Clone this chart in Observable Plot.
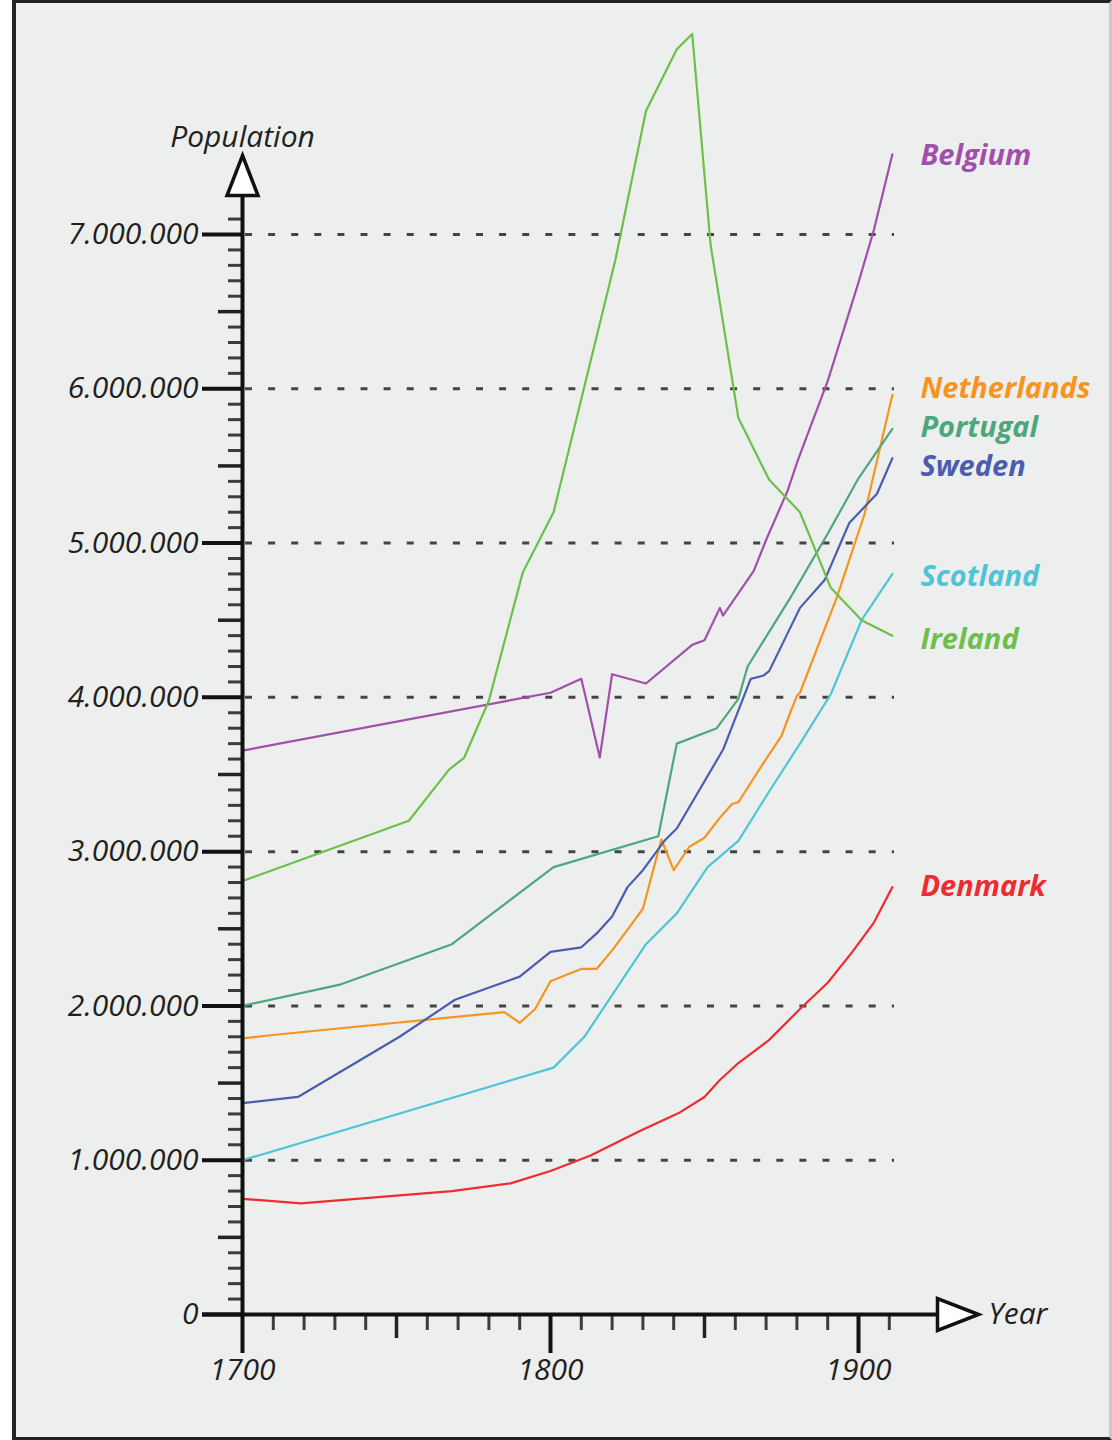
<!DOCTYPE html>
<html><head><meta charset="utf-8">
<script src="https://cdn.jsdelivr.net/npm/d3@7"></script>
<script src="https://cdn.jsdelivr.net/npm/@observablehq/plot@0.6"></script>
<style>
body{margin:0;background:#fff;}
#frame{position:absolute;left:12px;top:0;width:1100px;height:1440px;box-sizing:border-box;border:3px solid #222;border-left-width:4px;border-right-color:#c8c8c8;background:#edefee;}
#chart{position:absolute;left:0;top:0;}
</style></head><body>
<div id="frame"></div><div id="chart"></div>
<script>
// ---- data (population in millions) ----
const countries = ["Belgium","Netherlands","Portugal","Sweden","Scotland","Ireland","Denmark"];
const colors    = ["#a24fab","#f7941e","#4ea77c","#4b5cb1","#4fc4d6","#6cc04a","#ef2b2f"];

const belgiumYears = [1700,1800,1810,1816,1820,1831,1846,1850,1855,1856,1866,1870,1877,1880,1883,1890,1900,1905,1911];
const belgiumPop   = [3.655,4.03,4.12,3.61,4.15,4.09,4.34,4.37,4.58,4.53,4.82,5.02,5.34,5.52,5.68,6.05,6.69,7.03,7.52];

const netherlandsYears = [1700,1709,1785,1790,1795,1800,1805,1810,1815,1820,1826,1830,1836,1840,1845,1850,1855,1859,1861,1868,1875,1878,1880,1881,1893,1902,1907,1911];
const netherlandsPop   = [1.79,1.81,1.96,1.89,1.98,2.16,2.20,2.24,2.24,2.36,2.52,2.63,3.08,2.88,3.03,3.09,3.22,3.31,3.32,3.54,3.75,3.91,4.01,4.03,4.65,5.19,5.62,5.96];

const portugalYears = [1700,1732,1768,1801,1835,1841,1854,1861,1864,1878,1890,1900,1911];
const portugalPop   = [2.00,2.14,2.40,2.90,3.10,3.70,3.80,3.99,4.20,4.65,5.06,5.42,5.74];

const swedenYears = [1700,1718,1751,1769,1790,1800,1810,1815,1820,1825,1830,1837,1841,1856,1865,1869,1871,1881,1889,1897,1906,1911];
const swedenPop   = [1.37,1.41,1.80,2.04,2.19,2.35,2.38,2.47,2.58,2.77,2.88,3.07,3.15,3.66,4.12,4.14,4.17,4.58,4.76,5.13,5.32,5.55];

const scotlandYears = [1700,1801,1811,1831,1841,1851,1861,1871,1881,1891,1901,1911];
const scotlandPop   = [1.00,1.60,1.80,2.40,2.60,2.90,3.07,3.39,3.70,4.02,4.50,4.80];

const irelandYears = [1700,1754,1767,1772,1780,1791,1801,1821,1831,1841,1846,1852,1861,1871,1881,1891,1901,1911];
const irelandPop   = [2.81,3.20,3.53,3.61,3.98,4.81,5.20,6.83,7.80,8.20,8.30,6.93,5.81,5.41,5.20,4.71,4.50,4.40];

const denmarkYears = [1700,1719,1768,1787,1800,1813,1829,1842,1850,1855,1861,1871,1881,1890,1898,1905,1911];
const denmarkPop   = [0.75,0.72,0.80,0.85,0.93,1.03,1.19,1.31,1.41,1.52,1.63,1.78,1.98,2.15,2.35,2.54,2.77];

const yTicks  = [0,1,2,3,4,5,6,7];
const yLabels = ["0","1.000.000","2.000.000","3.000.000","4.000.000","5.000.000","6.000.000","7.000.000"];
const xTicks  = [1700,1800,1900];
const xLabels = ["1700","1800","1900"];

// ---- build table ----
const series = [
  [belgiumYears, belgiumPop], [netherlandsYears, netherlandsPop], [portugalYears, portugalPop],
  [swedenYears, swedenPop], [scotlandYears, scotlandPop], [irelandYears, irelandPop], [denmarkYears, denmarkPop]
];
const table = [];
series.forEach(([ys, vs], k) => ys.forEach((y, i) => table.push({country: countries[k], year: y, value: vs[i]})));
const lastPoints = series.map(([ys, vs], k) => ({country: countries[k], year: ys[ys.length-1], value: vs[vs.length-1], color: colors[k]}));
const labelDy = {Belgium:1, Netherlands:-6, Portugal:-1.5, Sweden:8.5, Scotland:3, Ireland:4, Denmark:0};

// ---- layout helpers (pixel lengths -> data units) ----
const X0 = 242, X1 = 858, Y0 = 1314, Y1 = 234;
const xu = p => p * 200 / (X1 - X0);
const yu = p => p * 7 / (Y0 - Y1);
const yTop = yu(Y0 - 195);          // top of y axis (arrow base)
const xEnd = 1700 + xu(937 - X0);   // end of x axis (arrow base)

const minorY = d3.range(1, 72).map(d => d / 10).filter(d => Math.round(d*10) % 5 !== 0);
const mediumY = d3.range(0.5, 7, 1);
const minorX = d3.range(1710, 1911, 10).filter(d => d % 50 !== 0);
const mediumX = [1750, 1850];

const arrowUp = {draw(ctx){ ctx.moveTo(0,-40); ctx.lineTo(15.5,0); ctx.lineTo(-15.5,0); ctx.closePath(); }};
const arrowRight = {draw(ctx){ ctx.moveTo(41,0); ctx.lineTo(0,-16); ctx.lineTo(0,16); ctx.closePath(); }};

const font = "'Open Sans', 'Noto Sans', sans-serif";
const ink = "#231f20";

const marks = [
  Plot.ruleY(d3.range(1, 8), {x1: 1700, x2: 1700 + xu(652), stroke: "#444", strokeWidth: 3, strokeDasharray: "7,16.1", strokeDashoffset: -3}),
  Plot.line(table, {x: "year", y: "value", z: "country", stroke: "country", strokeWidth: 2.2, strokeLinejoin: "round"}),
  // y ticks
  Plot.ruleY(minorY, {x1: 1700 - xu(14), x2: 1700, stroke: "#3c3c3c", strokeWidth: 3}),
  Plot.ruleY(mediumY, {x1: 1700 - xu(24), x2: 1700, stroke: "#222", strokeWidth: 3.5}),
  Plot.ruleY(yTicks, {x1: 1700 - xu(40), x2: 1700, stroke: "#111", strokeWidth: 4}),
  // x ticks
  Plot.ruleX(minorX, {y1: 0, y2: -yu(16), stroke: "#3c3c3c", strokeWidth: 3}),
  Plot.ruleX(mediumX, {y1: 0, y2: -yu(24), stroke: "#222", strokeWidth: 3.5}),
  Plot.ruleX([1800, 1900], {y1: 0, y2: -yu(39), stroke: "#111", strokeWidth: 4}),
  // axis lines
  Plot.ruleX([1700], {y1: -yu(39), y2: yTop, stroke: "#111", strokeWidth: 4}),
  Plot.ruleY([0], {x1: 1700 - xu(40), x2: xEnd, stroke: "#111", strokeWidth: 4}),
  // arrows
  Plot.dot([{x: 1700, y: yTop}], {x: "x", y: "y", symbol: arrowUp, fill: "white", stroke: "#111", strokeWidth: 3.5, strokeLinejoin: "miter"}),
  Plot.dot([{x: xEnd, y: 0}], {x: "x", y: "y", symbol: arrowRight, fill: "white", stroke: "#111", strokeWidth: 3.5, strokeLinejoin: "miter"}),
  // axis labels
  Plot.text(yTicks, {x: 1700, y: d => d, text: (d, i) => yLabels[i], dx: -44, textAnchor: "end", fontSize: 30, fontStyle: "italic", fill: ink, fontFamily: font}),
  Plot.text(xTicks, {x: d => d, y: 0, text: (d, i) => xLabels[i], dy: 56, fontSize: 30, fontStyle: "italic", fill: ink, fontFamily: font}),
  Plot.text(["Population"], {x: 1700, y: yTop, text: d => d, dy: -58, fontSize: 30, fontStyle: "italic", fill: ink, fontFamily: font}),
  Plot.text(["Year"], {x: xEnd, y: 0, text: d => d, dx: 51, textAnchor: "start", fontSize: 30, fontStyle: "italic", fill: ink, fontFamily: font}),
  // country labels
  ...lastPoints.map(p => Plot.text([p], {x: "year", y: "value", text: "country", dx: 28, dy: labelDy[p.country], textAnchor: "start", fill: p.color, fontSize: 29, fontWeight: "bold", fontStyle: "italic", fontFamily: font}))
];

const chart = Plot.plot({
  width: 1112, height: 1440,
  marginLeft: X0, marginRight: 1112 - X1, marginTop: Y1, marginBottom: 1440 - Y0,
  x: {domain: [1700, 1900], axis: null},
  y: {domain: [0, 7], axis: null},
  color: {domain: countries, range: colors},
  style: {background: "transparent", fontFamily: font, overflow: "visible"},
  marks
});
document.getElementById("chart").appendChild(chart);
</script>
</body></html>
